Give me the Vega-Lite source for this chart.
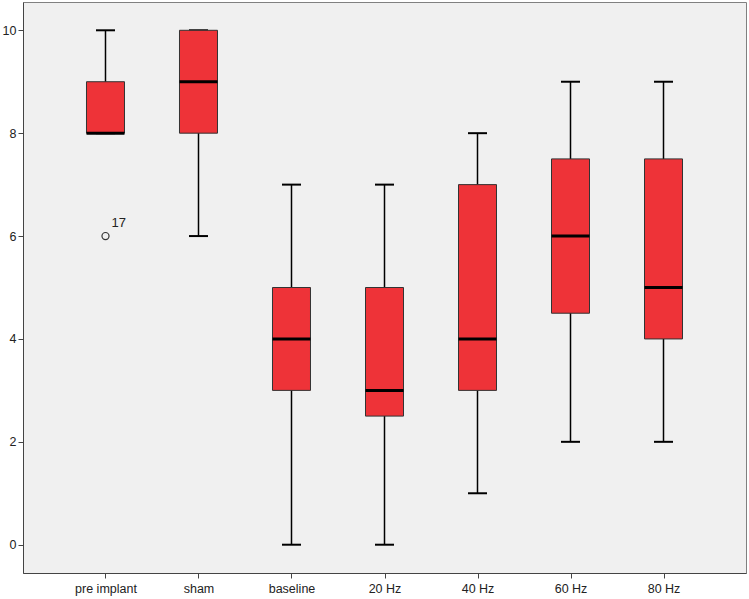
{
  "$schema": "https://vega.github.io/schema/vega-lite/v6.json",
  "width": 723,
  "height": 571,
  "autosize": {"type": "none"},
  "padding": {"left": 23, "top": 2, "right": 3, "bottom": 26},
  "background": "white",
  "config": {
    "view": {"fill": "#F0F0F0", "stroke": "#808080", "strokeWidth": 1},
    "font": "Liberation Sans",
    "axis": {
      "grid": false,
      "domainColor": "#444444",
      "tickColor": "#444444",
      "labelColor": "#222222",
      "labelFontSize": 12.5,
      "labelFont": "Liberation Sans",
      "tickSize": 5,
      "title": null
    }
  },
  "datasets": {
    "boxes": [
      {"group": "pre implant", "min": 8, "q1": 8, "median": 8, "q3": 9, "max": 10},
      {"group": "sham", "min": 6, "q1": 8, "median": 9, "q3": 10, "max": 10},
      {"group": "baseline", "min": 0, "q1": 3, "median": 4, "q3": 5, "max": 7},
      {"group": "20 Hz", "min": 0, "q1": 2.5, "median": 3, "q3": 5, "max": 7},
      {"group": "40 Hz", "min": 1, "q1": 3, "median": 4, "q3": 7, "max": 8},
      {"group": "60 Hz", "min": 2, "q1": 4.5, "median": 6, "q3": 7.5, "max": 9},
      {"group": "80 Hz", "min": 2, "q1": 4, "median": 5, "q3": 7.5, "max": 9}
    ],
    "outliers": [
      {"group": "pre implant", "value": 6, "label": "17"}
    ]
  },
  "encoding": {
    "x": {
      "field": "group",
      "type": "nominal",
      "sort": ["pre implant", "sham", "baseline", "20 Hz", "40 Hz", "60 Hz", "80 Hz"],
      "scale": {"type": "point", "padding": 0.887},
      "axis": {"labelAngle": 0, "labelPadding": 4}
    }
  },
  "layer": [
    {
      "data": {"name": "boxes"},
      "mark": {"type": "rule", "color": "#000000", "strokeWidth": 1.5},
      "encoding": {
        "y": {"field": "min", "type": "quantitative", "scale": {"domain": [-0.55, 10.55], "nice": false, "zero": false},
              "axis": {"values": [0, 2, 4, 6, 8, 10], "labelPadding": 2}},
        "y2": {"field": "max"}
      }
    },
    {
      "data": {"name": "boxes"},
      "transform": [{"fold": ["min", "max"], "as": ["stat", "val"]}],
      "mark": {"type": "tick", "orient": "horizontal", "color": "#000000", "opacity": 1, "size": 19, "thickness": 2},
      "encoding": {
        "y": {"field": "val", "type": "quantitative"}
      }
    },
    {
      "data": {"name": "boxes"},
      "mark": {"type": "bar", "size": 38, "fill": "#EE3338", "opacity": 1, "stroke": "#333333", "strokeWidth": 1},
      "encoding": {
        "y": {"field": "q1", "type": "quantitative"},
        "y2": {"field": "q3"}
      }
    },
    {
      "data": {"name": "boxes"},
      "mark": {"type": "tick", "orient": "horizontal", "color": "#000000", "opacity": 1, "size": 38, "thickness": 3},
      "encoding": {
        "y": {"field": "median", "type": "quantitative"}
      }
    },
    {
      "data": {"name": "outliers"},
      "mark": {"type": "point", "shape": "circle", "filled": false, "stroke": "#333333", "strokeWidth": 1.2, "size": 50, "opacity": 1},
      "encoding": {
        "y": {"field": "value", "type": "quantitative"}
      }
    },
    {
      "data": {"name": "outliers"},
      "mark": {"type": "text", "align": "left", "baseline": "bottom", "dx": 6, "dy": -6, "fontSize": 13, "color": "#222222", "font": "Liberation Sans"},
      "encoding": {
        "y": {"field": "value", "type": "quantitative"},
        "text": {"field": "label"}
      }
    }
  ]
}
